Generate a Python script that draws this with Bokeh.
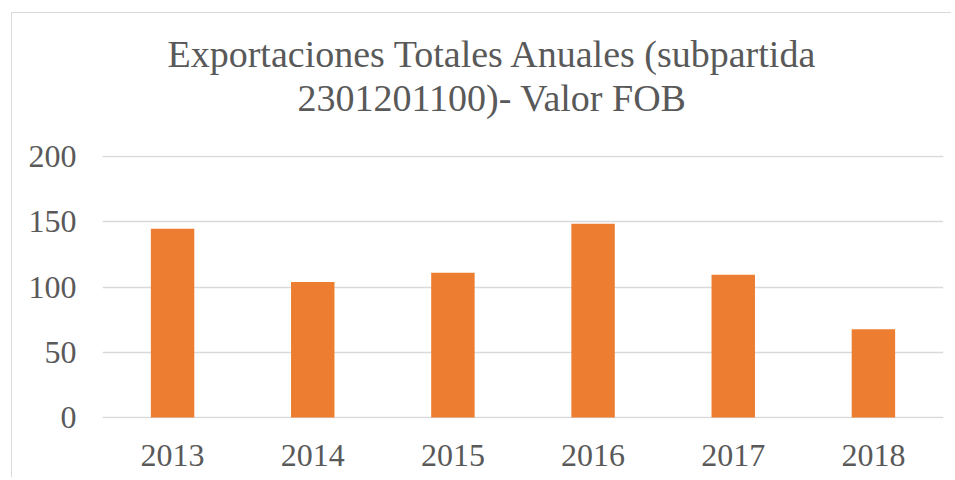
from bokeh.plotting import figure
from bokeh.models import ColumnDataSource, Range1d, FixedTicker, Title
from bokeh.embed import file_html
from bokeh.resources import INLINE

years = ["2013", "2014", "2015", "2016", "2017", "2018"]
values = [144.6, 103.8, 110.9, 148.4, 109.4, 67.6]
y_ticks = [0, 50, 100, 150, 200]
title_line1 = "Exportaciones Totales Anuales (subpartida"
title_line2 = "2301201100)- Valor FOB"

FONT = "Liberation Serif"
GREY = "#595959"

source = ColumnDataSource(data=dict(year=years, value=values))

p = figure(x_range=years, y_range=Range1d(-0.8, 200.8), width=940, height=465,
           output_backend="svg", toolbar_location=None,
           min_border_left=90, min_border_right=9, min_border_bottom=60,
           min_border_top=142,
           styles={"margin-left": "11px", "margin-top": "12px",
                   "border-left": "1px solid #d9d9d9",
                   "border-top": "1px solid #d9d9d9"})

p.title.text = title_line1
p.title.align = "left"
p.title.offset = 65
p.title.text_font = FONT
p.title.text_font_size = "38px"
p.title.text_font_style = "normal"
p.title.text_color = GREY
p.title.standoff = 0

# white (invisible) spacer between the plot area and the second title line
p.add_layout(Title(text=".", align="center", text_font=FONT,
                   text_font_size="20px", text_color="#ffffff", standoff=21), "above")
p.add_layout(Title(text=title_line2, align="left", offset=195, text_font=FONT,
                   text_font_size="38px", text_font_style="normal",
                   text_color=GREY, standoff=0), "above")

p.vbar(x="year", top="value", width=0.31, source=source,
       fill_color="#ED7D31", line_color=None)

p.outline_line_color = None
p.xgrid.grid_line_color = None
p.ygrid.grid_line_color = "#d9d9d9"
p.ygrid.grid_line_width = 1.5
p.yaxis.ticker = FixedTicker(ticks=y_ticks)

for ax in (p.xaxis, p.yaxis):
    ax.axis_line_color = None
    ax.major_tick_line_color = None
    ax.minor_tick_line_color = None
    ax.major_label_text_font = FONT
    ax.major_label_text_font_size = "32px"
    ax.major_label_text_color = GREY
p.yaxis.major_label_standoff = 20
p.xaxis.major_label_standoff = 20
p.x_range.range_padding = 0

open("out.html", "w").write(file_html(p, INLINE))
